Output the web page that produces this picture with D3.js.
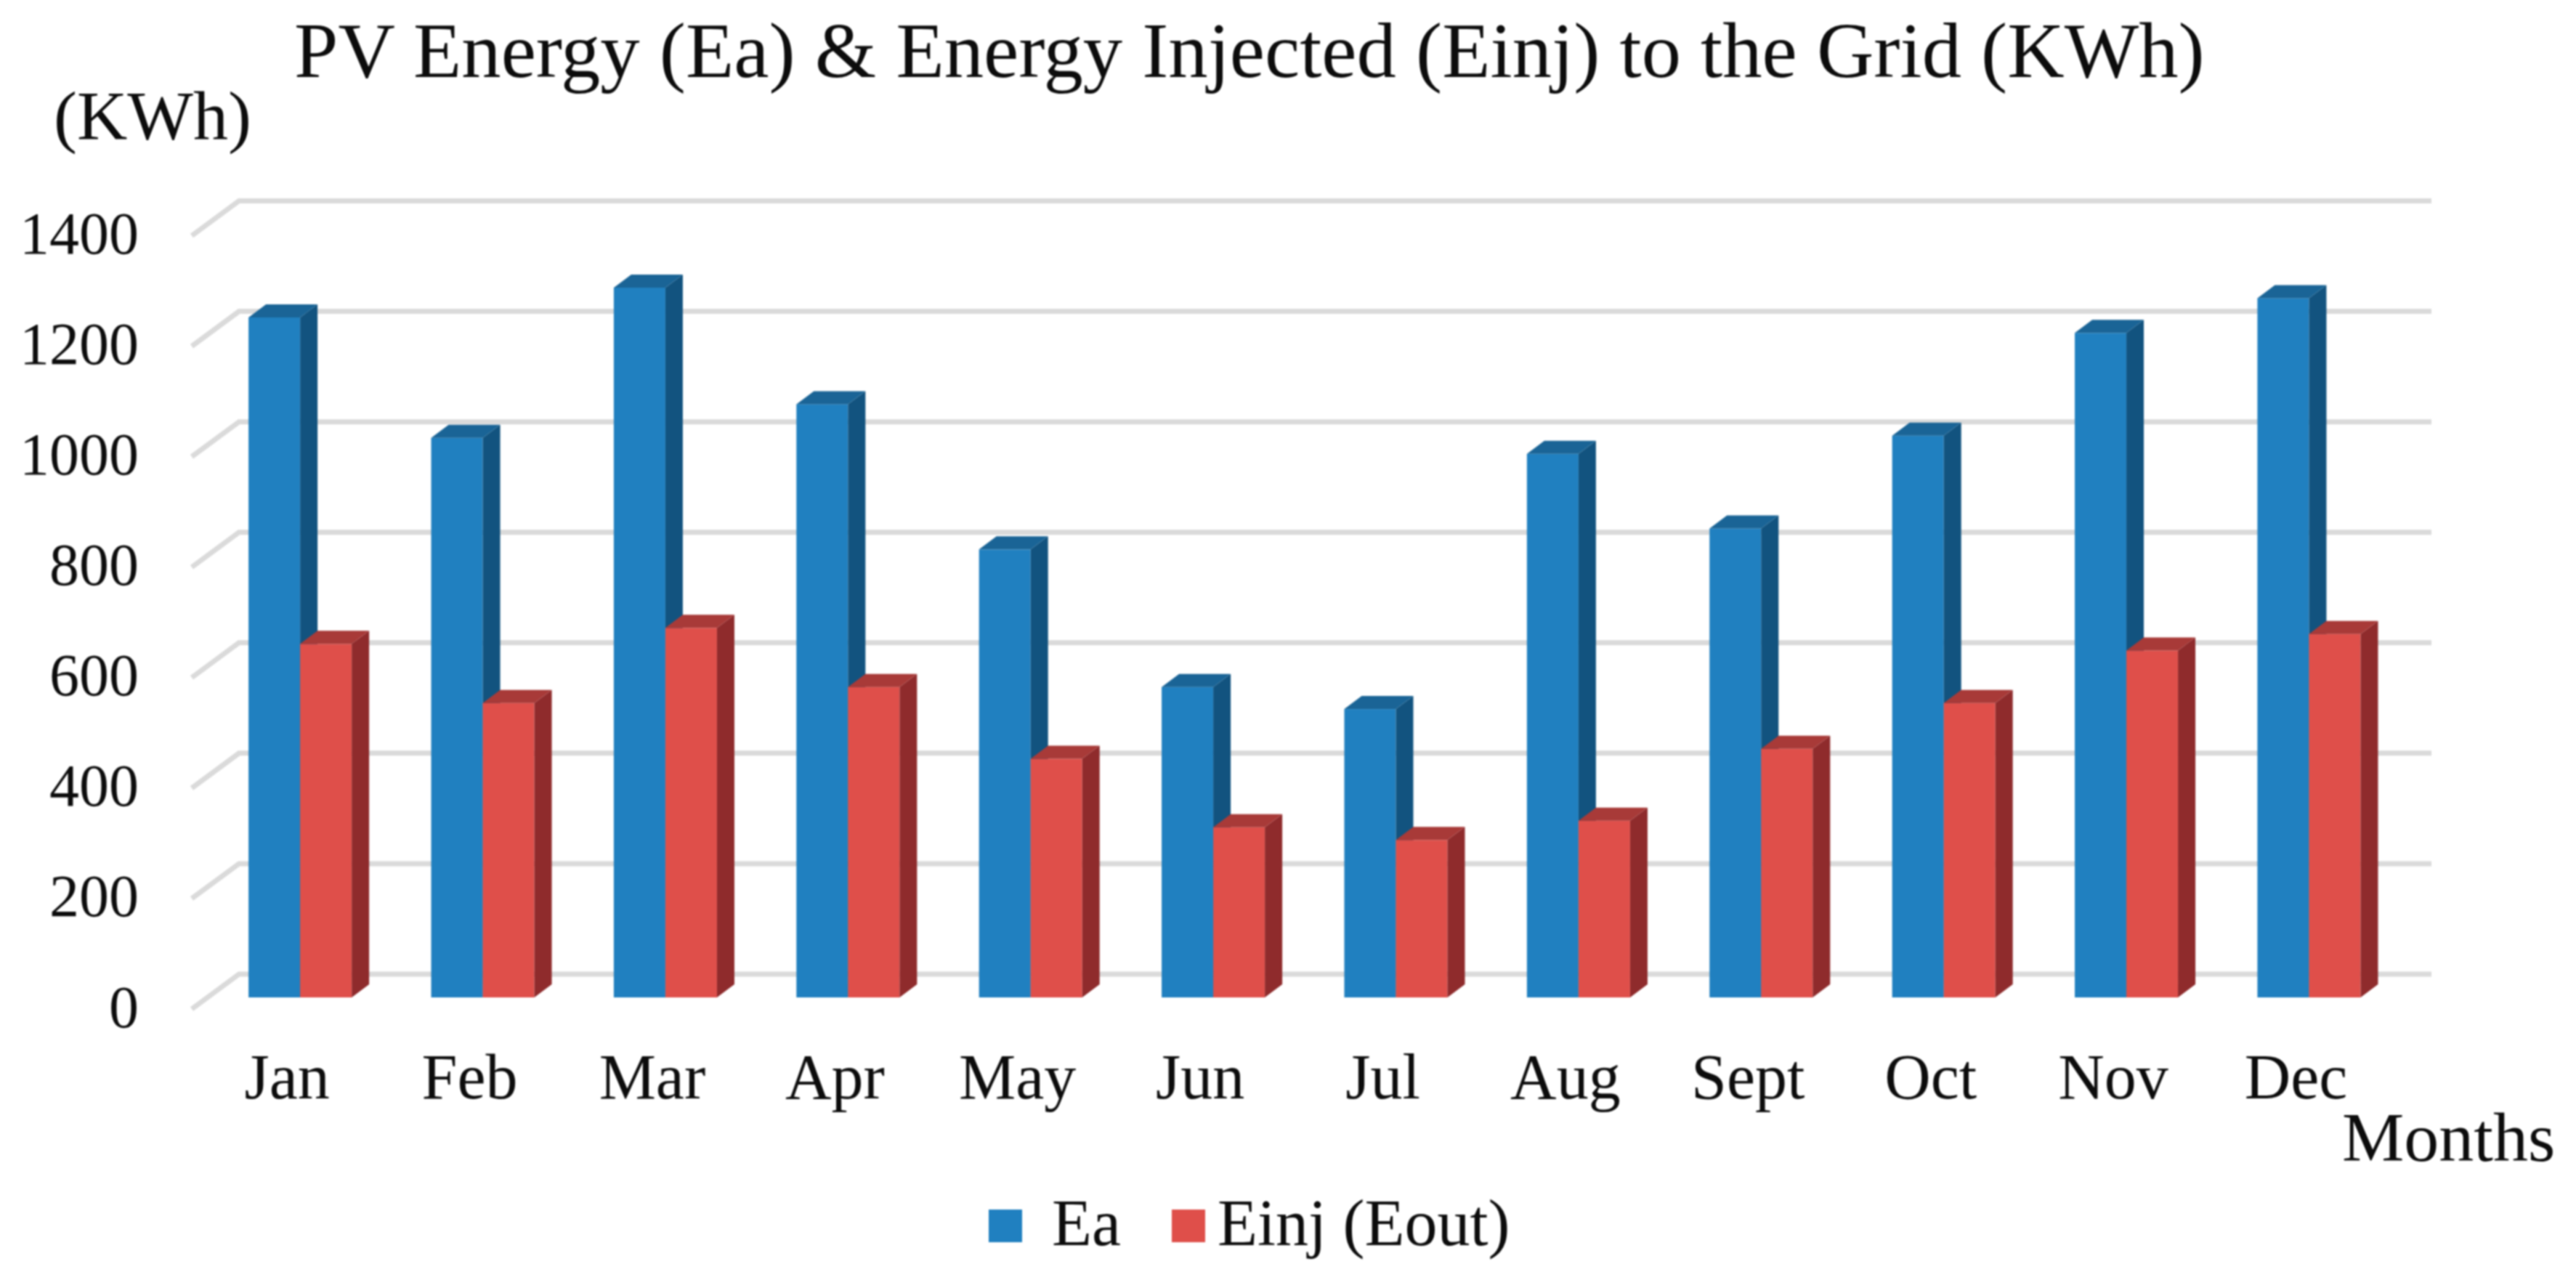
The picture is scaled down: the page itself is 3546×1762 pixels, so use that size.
<!DOCTYPE html>
<html>
<head>
    <meta charset="utf-8">
    <title>PV Energy and Energy Injected</title>
    <script type="text/javascript" src="https://d3js.org/d3.v7.min.js"></script>
    <style>
        html, body { margin: 0; padding: 0; background: #fff; }
        svg { display: block; filter: blur(0.9px); }
        text { font-family: "Liberation Serif", serif; fill: #0c0c0c; }
    </style>
</head>
<body>
<script type="text/javascript">

    var months = ["Jan", "Feb", "Mar", "Apr", "May", "Jun", "Jul", "Aug", "Sept", "Oct", "Nov", "Dec"];
    var ea = [1231, 1013, 1285, 1074, 811, 562, 522, 984, 849, 1017, 1203, 1266];
    var einj = [640, 533, 669, 562, 432, 308, 285, 320, 450, 533, 628, 658];
    var seriesNames = ["Ea", "Einj (Eout)"];
    var yTicks = [0, 200, 400, 600, 800, 1000, 1200, 1400];

    var front = ["#2080c0", "#df4f4a"];
    var side = ["#12537f", "#8f2b2c"];
    var top_ = ["#1a6496", "#a83a38"];

    var width = 3546;
    var height = 1762;

    // bar depth of the fake 3d
    var dx = 24;
    var dy = 18;

    var svg = d3.select("body").append("svg").attr("width", width).attr("height", height);

    var y = d3.scaleLinear().domain([0, 1400]).range([1373, 308.5]);

    var x0 = d3.scaleBand().domain(months).range([288.7, 3302.9]).paddingInner(0.435).paddingOuter(0.2125);
    var x1 = d3.scaleBand().domain([0, 1]).range([0, x0.bandwidth()]);

    // gridlines: back wall plus the short piece on the floor going to the front
    var grid = svg.append("g").attr("fill", "none").attr("stroke", "#dadada").attr("stroke-width", 7);
    grid.selectAll("path")
        .data(yTicks)
        .enter()
        .append("path")
        .attr("d", function(d) {
            return "M264," + (y(d) + 16) + "L329," + (y(d) - 32) + "H3347";
        });

    // y labels
    svg.append("g")
        .attr("transform", "translate(191,0)")
        .call(d3.axisLeft(y).tickValues(yTicks).tickSize(0).tickPadding(0).tickFormat(d3.format("d")))
        .call(function(g) {
            g.select(".domain").remove();
            g.selectAll("text").attr("font-size", 82).attr("dy", 0).attr("y", 40);
        });

    // x labels
    svg.append("g")
        .attr("transform", "translate(-18,1512)")
        .call(d3.axisBottom(x0).tickSize(0).tickPadding(0))
        .call(function(g) {
            g.select(".domain").remove();
            g.selectAll("text").attr("font-size", 88).attr("dy", 0).attr("y", 0);
        });

    var rows = [];
    months.forEach(function(m, i) {
        rows.push({ month: m, s: 0, value: ea[i] });
        rows.push({ month: m, s: 1, value: einj[i] });
    });

    var bars = svg.append("g").selectAll("g")
        .data(rows)
        .enter()
        .append("g")
        .attr("transform", function(d) {
            return "translate(" + (x0(d.month) + x1(d.s)) + ",0)";
        });

    bars.append("rect")
        .attr("x", 0)
        .attr("y", function(d) { return y(d.value); })
        .attr("width", x1.bandwidth())
        .attr("height", function(d) { return y(0) - y(d.value); })
        .attr("fill", function(d) { return front[d.s]; });

    // side face
    bars.append("polygon")
        .attr("points", function(d) {
            var w = x1.bandwidth();
            return [[w, y(d.value)], [w + dx, y(d.value) - dy], [w + dx, y(0) - dy], [w, y(0)]].join(" ");
        })
        .attr("fill", function(d) { return side[d.s]; });

    // top face
    bars.append("polygon")
        .attr("points", function(d) {
            var w = x1.bandwidth();
            return [[0, y(d.value)], [dx, y(d.value) - dy], [w + dx, y(d.value) - dy], [w, y(d.value)]].join(" ");
        })
        .attr("fill", function(d) { return top_[d.s]; });

    svg.append("text")
        .attr("x", 405)
        .attr("y", 106)
        .attr("font-size", 108.6)
        .text("PV Energy (Ea) & Energy Injected (Einj) to the Grid (KWh)");

    svg.append("text")
        .attr("x", 74)
        .attr("y", 192)
        .attr("font-size", 96)
        .text("(KWh)");

    svg.append("text")
        .attr("x", 3224)
        .attr("y", 1598)
        .attr("font-size", 96)
        .text("Months");

    // legend
    var legendX = [1361, 1613];
    var legendTextX = [1448, 1676];
    var legend = svg.append("g").selectAll("g")
        .data(seriesNames)
        .enter()
        .append("g");

    legend.append("rect")
        .attr("x", function(d, i) { return legendX[i]; })
        .attr("y", 1665)
        .attr("width", 46)
        .attr("height", 45)
        .attr("fill", function(d, i) { return front[i]; });

    legend.append("text")
        .attr("x", function(d, i) { return legendTextX[i]; })
        .attr("y", 1714)
        .attr("font-size", 90)
        .text(function(d) { return d; });

</script>
</body>
</html>
